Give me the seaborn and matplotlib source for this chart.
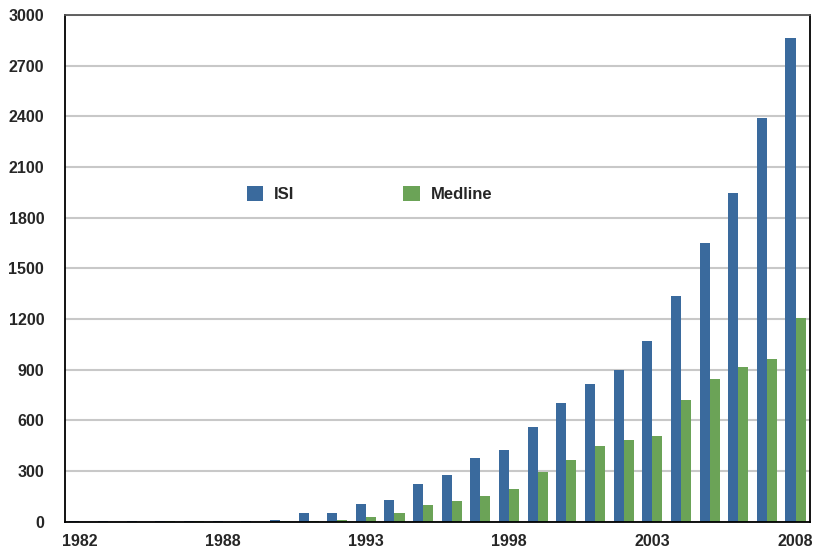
import matplotlib
matplotlib.use('Agg')
import matplotlib.pyplot as plt
import numpy as np
import pandas as pd
import seaborn as sns

# 26 categories; the axis labels only show 1982, 1988, ... 2008
years = ['1982', '1984', '1985', '1986', '1987', '1988', '1989', '1990', '1991',
         '1992', '1993', '1994', '1995', '1996', '1997', '1998', '1999', '2000',
         '2001', '2002', '2003', '2004', '2005', '2006', '2007', '2008']
isi = [4, 4, 4, 5, 5, 4, 4, 10, 52, 52, 104, 127, 222, 276, 376, 424, 560,
       702, 815, 898, 1069, 1336, 1650, 1946, 2390, 2864]
medline = [0, 0, 0, 4, 4, 0, 0, 4, 4, 12, 27, 52, 98, 121, 151, 193, 293,
           364, 447, 483, 507, 720, 844, 915, 963, 1206]
shown_labels = ['1982', '1988', '1993', '1998', '2003', '2008']
y_ticks = list(range(0, 3001, 300))

df = pd.DataFrame({'year': years * 2,
                   'count': isi + medline,
                   'source': ['ISI'] * len(years) + ['Medline'] * len(years)})

sns.set_style('white')
plt.rcParams['font.family'] = ['Liberation Sans', 'DejaVu Sans']

fig = plt.figure(figsize=(8.14, 5.49), dpi=100)
ax = fig.add_axes([0.0799, 0.050, 0.915, 0.9227])

sns.barplot(data=df, x='year', y='count', hue='source', order=years,
            palette={'ISI': '#3a6a9d', 'Medline': '#6ba357'},
            width=0.7, linewidth=0, saturation=1, ax=ax)

ax.set_xlim(-0.5, len(years) - 0.5)
ax.set_ylim(0, 3000)
ax.set_yticks(y_ticks)
ax.set_yticklabels([str(v) for v in y_ticks], fontsize=11.5, fontweight='bold')
ax.set_xticks([years.index(y) for y in shown_labels])
ax.set_xticklabels(shown_labels, fontsize=11.5, fontweight='bold')
ax.set_xticks(np.arange(0.5, len(years) - 1, 1), minor=True)
ax.tick_params(axis='x', which='major', length=0, pad=9)
ax.tick_params(axis='x', which='minor', direction='inout', length=6, width=1, color='black')
ax.tick_params(axis='y', length=0, pad=15)
ax.set_xlabel('')
ax.set_ylabel('')

ax.yaxis.grid(True, color='#c8c8c8', linewidth=1.5)
ax.set_axisbelow(True)

for side in ['left', 'bottom', 'right']:
    ax.spines[side].set_color('black')
    ax.spines[side].set_linewidth(1.3)
ax.spines['top'].set_color('#555555')
ax.spines['top'].set_linewidth(1.3)

ax.legend(loc='center left', bbox_to_anchor=(0.244, 0.647), ncol=2, frameon=False,
          prop={'weight': 'bold', 'size': 12}, handlelength=1.0, handleheight=1.0,
          handletextpad=0.65, columnspacing=6.5, borderpad=0, borderaxespad=0)

fig.savefig('out.png', dpi=100)
